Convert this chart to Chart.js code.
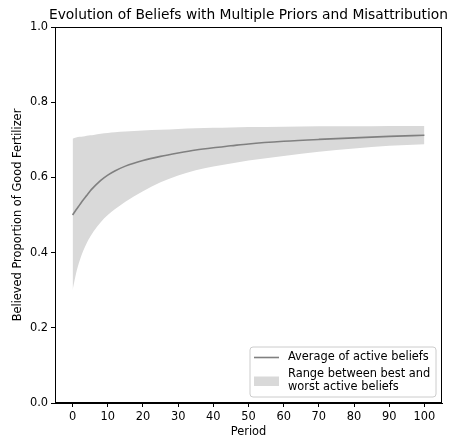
<!DOCTYPE html>
<html>
<head>
<meta charset="utf-8">
<script src="https://cdn.jsdelivr.net/npm/chart.js@4/dist/chart.umd.min.js"></script>
<style>
  html, body { margin: 0; padding: 0; background: #fff; }
  #wrap { width: 452px; height: 439px; position: relative; }
</style>
</head>
<body>
<div id="wrap"><canvas id="c" width="452" height="439"></canvas></div>
<script>
// ---- data ----
const titleText = "Evolution of Beliefs with Multiple Priors and Misattribution";
const xLabel = "Period";
const yLabel = "Believed Proportion of Good Fertilizer";
const periods = [0,1,2,3,4,5,6,8,10,12,15,20,25,30,35,40,45,50,60,70,80,90,100];
const meanBelief = [0.500,0.514,0.527,0.540,0.552,0.564,0.574,0.592,0.606,0.617,0.630,0.645,0.656,0.665,0.673,0.679,0.684,0.689,0.696,0.701,0.705,0.709,0.712];
const bestBelief = [0.703,0.706,0.708,0.709,0.711,0.712,0.713,0.716,0.718,0.720,0.722,0.725,0.727,0.729,0.731,0.732,0.733,0.734,0.735,0.736,0.736,0.737,0.737];
const worstBelief = [0.300,0.345,0.378,0.404,0.425,0.442,0.457,0.481,0.500,0.515,0.535,0.563,0.587,0.605,0.619,0.629,0.637,0.645,0.657,0.668,0.677,0.684,0.688];
const xTicks = [0,10,20,30,40,50,60,70,80,90,100];
const yTicks = [0.0,0.2,0.4,0.6,0.8,1.0];
const legendLabels = ["Average of active beliefs", ["Range between best and", "worst active beliefs"]];

const FONT = "'DejaVu Sans', sans-serif";
const SMALL = 11.4;
const toPts = (ys) => periods.map((p, i) => ({x: p, y: ys[i]}));

const framePlugin = {
  id: 'frame',
  afterDraw(chart) {
    const {ctx, chartArea: a} = chart;
    ctx.save();
    // axes box
    ctx.strokeStyle = '#000';
    ctx.lineWidth = 1;
    ctx.strokeRect(a.left + 0.5, a.top + 0.5, a.right - a.left - 1, a.bottom - a.top - 1);
    // title
    ctx.fillStyle = '#000';
    ctx.font = "13.8px " + FONT;
    ctx.textAlign = 'center';
    ctx.textBaseline = 'middle';
    ctx.fillText(titleText, (a.left + a.right) / 2, 15);
    // legend
    const bx = 250, by = 347, bw = 186, bh = 50, r = 3;
    ctx.beginPath();
    ctx.moveTo(bx + r, by);
    ctx.arcTo(bx + bw, by, bx + bw, by + bh, r);
    ctx.arcTo(bx + bw, by + bh, bx, by + bh, r);
    ctx.arcTo(bx, by + bh, bx, by, r);
    ctx.arcTo(bx, by, bx + bw, by, r);
    ctx.closePath();
    ctx.fillStyle = 'rgba(255,255,255,0.8)';
    ctx.fill();
    ctx.strokeStyle = '#cccccc';
    ctx.lineWidth = 1;
    ctx.stroke();
    ctx.strokeStyle = '#808080';
    ctx.lineWidth = 1.6;
    ctx.beginPath();
    ctx.moveTo(254, 357.5);
    ctx.lineTo(279, 357.5);
    ctx.stroke();
    ctx.fillStyle = '#d9d9d9';
    ctx.fillRect(254, 376.5, 25, 9.5);
    ctx.fillStyle = '#000';
    ctx.font = SMALL + "px " + FONT;
    ctx.textAlign = 'left';
    ctx.textBaseline = 'middle';
    ctx.fillText(legendLabels[0], 288, 357.5);
    ctx.fillText(legendLabels[1][0], 288, 374.5);
    ctx.fillText(legendLabels[1][1], 288, 387.5);
    ctx.restore();
  }
};

new Chart(document.getElementById('c'), {
  type: 'line',
  data: {
    datasets: [
      {
        label: legendLabels[0],
        data: toPts(meanBelief),
        borderColor: '#808080',
        borderWidth: 1.6,
        pointRadius: 0,
        fill: false,
        cubicInterpolationMode: 'monotone'
      },
      {
        label: 'best',
        data: toPts(bestBelief),
        borderWidth: 0,
        borderColor: 'rgba(0,0,0,0)',
        backgroundColor: '#d9d9d9',
        pointRadius: 0,
        fill: '+1',
        cubicInterpolationMode: 'monotone'
      },
      {
        label: 'worst',
        data: toPts(worstBelief),
        borderWidth: 0,
        borderColor: 'rgba(0,0,0,0)',
        pointRadius: 0,
        fill: false,
        cubicInterpolationMode: 'monotone'
      }
    ]
  },
  options: {
    responsive: false,
    animation: false,
    events: [],
    layout: { padding: { left: 0, right: 10, top: 27, bottom: 0 } },
    plugins: {
      legend: { display: false },
      tooltip: { enabled: false },
      title: { display: false }
    },
    scales: {
      x: {
        type: 'linear',
        min: -5,
        max: 105,
        afterBuildTicks: (s) => { s.ticks = xTicks.map(v => ({value: v})); },
        afterFit: (s) => { s.height = 36; },
        grid: { drawOnChartArea: false, drawTicks: true, tickLength: 4, tickColor: '#000', tickWidth: 1 },
        border: { display: true, color: '#000', width: 1 },
        ticks: { color: '#000', font: { family: FONT, size: SMALL }, padding: 3, maxRotation: 0, autoSkip: false },
        title: { display: true, text: xLabel, color: '#000', font: { family: FONT, size: SMALL }, padding: { top: 0, bottom: 0 } }
      },
      y: {
        type: 'linear',
        min: 0,
        max: 1,
        afterBuildTicks: (s) => { s.ticks = yTicks.map(v => ({value: v})); },
        afterFit: (s) => { s.width = 55; },
        grid: { drawOnChartArea: false, drawTicks: true, tickLength: 4, tickColor: '#000', tickWidth: 1 },
        border: { display: true, color: '#000', width: 1 },
        ticks: { color: '#000', font: { family: FONT, size: SMALL }, padding: 3, callback: (v) => Number(v).toFixed(1), autoSkip: false },
        title: { display: true, text: yLabel, color: '#000', font: { family: FONT, size: SMALL }, padding: { top: 11, bottom: 0 } }
      }
    }
  },
  plugins: [framePlugin]
});
</script>
</body>
</html>
